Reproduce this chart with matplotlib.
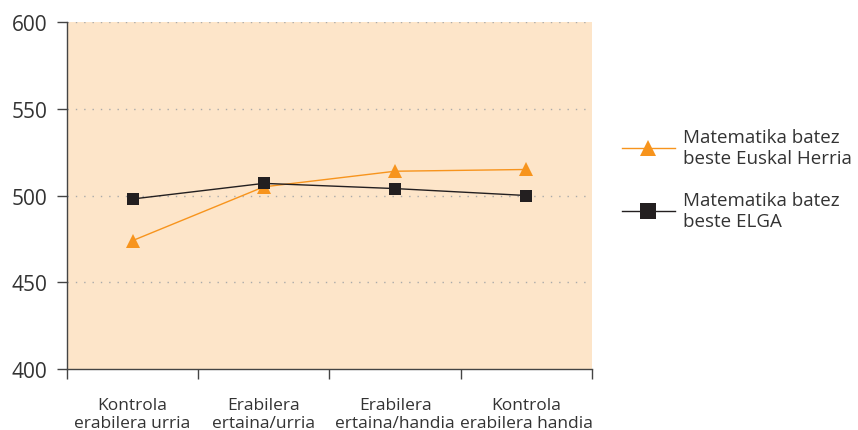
import numpy as np
import matplotlib.pyplot as plt
from matplotlib.lines import Line2D

# Data
categories = ["Kontrola\nerabilera urria", "Erabilera\nertaina/urria",
              "Erabilera\nertaina/handia", "Kontrola\nerabilera handia"]
euskal_herria = [474, 505, 514, 515]
elga = [498, 507, 504, 500]
labels = ["Matematika batez\nbeste Euskal Herria", "Matematika batez\nbeste ELGA"]

orange = "#F7941D"
black = "#231F20"
peach = "#FDE5C9"

plt.rcParams['font.family'] = ['Open Sans', 'DejaVu Sans']

fig = plt.figure(figsize=(8.58, 4.31), dpi=100)
ax = fig.add_axes([0.078, 0.1415, 0.612, 0.8051])
ax.set_facecolor(peach)

x = np.arange(len(categories))
ax.plot(x, euskal_herria, color=orange, linewidth=1, marker='^', markersize=10,
        markeredgewidth=0, zorder=3)
ax.plot(x, elga, color=black, linewidth=1, marker='s', markersize=8.5,
        markeredgewidth=0, zorder=4)

ax.set_xlim(-0.5, 3.5)
ax.set_ylim(400, 600)
ax.set_yticks([400, 450, 500, 550, 600])
ax.set_xticks([-0.5, 0.5, 1.5, 2.5, 3.5])
ax.set_xticklabels([])
ax.set_xticks(x, minor=True)
ax.set_xticklabels(categories, minor=True, fontsize=12.5, color="#333333", linespacing=1.15)
ax.tick_params(axis='x', which='minor', length=0, pad=20)
ax.tick_params(axis='x', which='major', length=7, width=1, color="#444444")
ax.tick_params(axis='y', length=7, width=1, color="#444444", labelsize=15,
               labelcolor="#333333", pad=7)

for y in [450, 500, 550, 600]:
    ax.axhline(y, color="#AAAAAA", linestyle=(0, (1, 5)), linewidth=1, zorder=1)

for side in ['top', 'right']:
    ax.spines[side].set_visible(False)
for side in ['left', 'bottom']:
    ax.spines[side].set_color("#444444")
    ax.spines[side].set_linewidth(1)

handles = [
    Line2D([0], [0], color=orange, linewidth=1, marker='^', markersize=12, markeredgewidth=0),
    Line2D([0], [0], color=black, linewidth=1, marker='s', markersize=11, markeredgewidth=0),
]
fig.legend(handles, labels, loc='center left', bbox_to_anchor=(0.725, 0.582),
           frameon=False, fontsize=13.5, handlelength=2.8, labelspacing=1.3,
           handletextpad=0.45, borderpad=0, borderaxespad=0, labelcolor="#333333")

fig.savefig("out.png", dpi=100)
